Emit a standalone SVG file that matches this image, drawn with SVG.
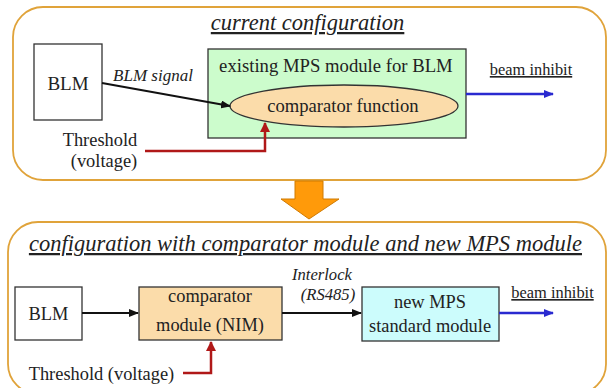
<svg xmlns="http://www.w3.org/2000/svg" width="610" height="388" viewBox="0 0 610 388">
  <style>
    .panel { fill: #ffffff; stroke: #e0a33a; stroke-width: 1.8; }
    .box { stroke: #333; stroke-width: 1.3; }
    .blk { stroke: #111; stroke-width: 2; fill: none; }
    .red { stroke: #b01818; stroke-width: 2.5; fill: none; }
    .blu { stroke: #2a2ad0; stroke-width: 2.5; fill: none; }
  </style>
  <defs>
    <marker id="ahBlack" markerWidth="10" markerHeight="8" refX="9" refY="4" orient="auto" markerUnits="userSpaceOnUse">
      <path d="M0,0 L10,4 L0,8 Z" fill="#111"/>
    </marker>
    <marker id="ahRed" markerWidth="10" markerHeight="10" refX="9" refY="5" orient="auto" markerUnits="userSpaceOnUse">
      <path d="M0,0 L10,5 L0,10 Z" fill="#b01818"/>
    </marker>
    <marker id="ahBlue" markerWidth="10" markerHeight="8" refX="9" refY="4" orient="auto" markerUnits="userSpaceOnUse">
      <path d="M0,0 L10,4 L0,8 Z" fill="#2a2ad0"/>
    </marker>
  </defs>

  <rect width="610" height="388" fill="#ffffff"/>

  <g id="panel-current">
    <rect class="panel" x="13" y="7" width="593" height="173" rx="30" ry="30"/>
    <text x="210.8" y="30" font-family="Liberation Serif" font-size="22.5" font-style="italic" text-decoration="underline" fill="#222">current configuration</text>
  </g>

  <g id="panel-new">
    <rect class="panel" x="8" y="222" width="598" height="172" rx="30" ry="30"/>
    <text x="28.9" y="251" font-family="Liberation Serif" font-size="22.5" font-style="italic" text-decoration="underline" fill="#222">configuration with comparator module and new MPS module</text>
  </g>

  <g id="transition-arrow">
    <path d="M295,181 L323,181 L323,199 L339,199 L309,219 L281,199 L295,199 Z" fill="#ff9a0a" stroke="#d07a00" stroke-width="1"/>
  </g>

  <g id="blm-top">
    <rect class="box" x="34" y="44" width="68" height="76" fill="#ffffff"/>
    <text x="47.4" y="90" font-family="Liberation Serif" font-size="19" fill="#222">BLM</text>
  </g>
  <g id="mps-existing">
    <rect class="box" x="208" y="49" width="258" height="89" fill="#ccfccc"/>
    <text x="219.1" y="72" font-family="Liberation Serif" font-size="18.7" fill="#222">existing MPS module for BLM</text>
  </g>
  <g id="comparator-function">
    <ellipse class="box" cx="344" cy="106" rx="114" ry="21" fill="#fbdcaa"/>
    <text x="267.3" y="112" font-family="Liberation Serif" font-size="18.6" fill="#222">comparator function</text>
  </g>
  <g id="threshold-top">
    <text x="62.7" y="146" font-family="Liberation Serif" font-size="18.4" fill="#222">Threshold</text>
    <text x="70.8" y="167" font-family="Liberation Serif" font-size="18.4" fill="#222">(voltage)</text>
  </g>
  <g id="beam-inhibit-top">
    <text x="489.8" y="75" font-family="Liberation Serif" font-size="16.4" text-decoration="underline" fill="#222">beam inhibit</text>
  </g>

  <g id="blm-bottom">
    <rect class="box" x="15" y="287" width="67" height="53" fill="#ffffff"/>
    <text x="28.6" y="320" font-family="Liberation Serif" font-size="18.4" fill="#222">BLM</text>
  </g>
  <g id="comparator-module">
    <rect class="box" x="139" y="287" width="143" height="53" fill="#fbdcaa"/>
    <text x="168.1" y="302" font-family="Liberation Serif" font-size="18.4" fill="#222">comparator</text>
    <text x="156.1" y="331" font-family="Liberation Serif" font-size="18.4" fill="#222">module (NIM)</text>
  </g>
  <g id="mps-new">
    <rect class="box" x="362" y="287" width="137" height="54" fill="#ccfcfc"/>
    <text x="394" y="308" font-family="Liberation Serif" font-size="18.4" fill="#222">new MPS</text>
    <text x="369" y="332" font-family="Liberation Serif" font-size="18.4" fill="#222">standard module</text>
  </g>
  <g id="interlock-label">
    <text x="292" y="280" font-family="Liberation Serif" font-size="16.6" font-style="italic" fill="#222">Interlock</text>
    <text x="300.8" y="300" font-family="Liberation Serif" font-size="16.6" font-style="italic" fill="#222">(RS485)</text>
  </g>
  <g id="threshold-bottom">
    <text x="28.7" y="380" font-family="Liberation Serif" font-size="18.4" fill="#222">Threshold (voltage)</text>
  </g>
  <g id="beam-inhibit-bottom">
    <text x="511.3" y="298" font-family="Liberation Serif" font-size="16.4" text-decoration="underline" fill="#222">beam inhibit</text>
  </g>

  <g id="connectors">
    <path class="blk" d="M102,83 L230,106" marker-end="url(#ahBlack)"/>
    <text x="113.1" y="81" font-family="Liberation Serif" font-size="17" font-style="italic" fill="#222">BLM signal</text>
    <path class="red" d="M145,151 L265,151 L265,123" marker-end="url(#ahRed)"/>
    <path class="blu" d="M466,94 L553,94" marker-end="url(#ahBlue)"/>
    <path class="blk" d="M82,313 L138,313" marker-end="url(#ahBlack)"/>
    <path class="blk" d="M282,313 L361,313" marker-end="url(#ahBlack)"/>
    <path class="red" d="M183,373 L211,373 L211,342" marker-end="url(#ahRed)"/>
    <path class="blu" d="M499,313 L553,313" marker-end="url(#ahBlue)"/>
  </g>
</svg>
